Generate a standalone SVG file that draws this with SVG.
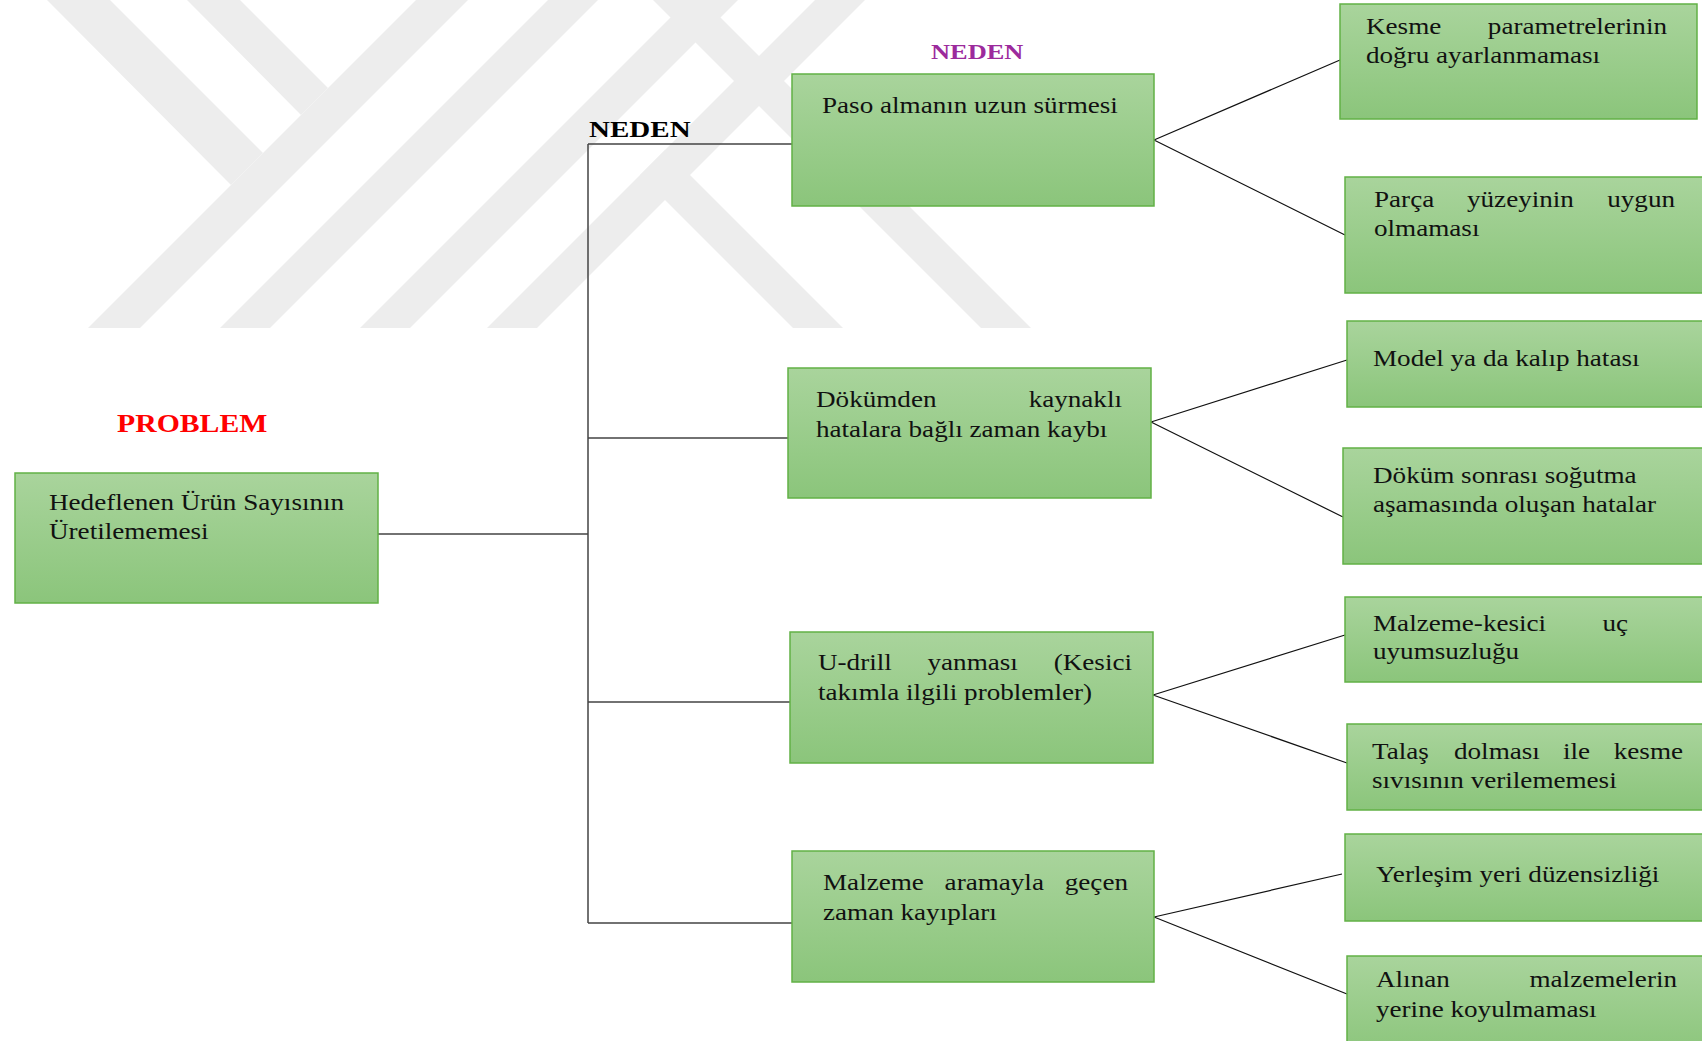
<svg xmlns="http://www.w3.org/2000/svg" width="1702" height="1041" viewBox="0 0 1702 1041">
  <defs>
    <linearGradient id="boxFill" x1="0" y1="0" x2="0" y2="1">
      <stop offset="0" stop-color="#a9d49c"/>
      <stop offset="1" stop-color="#8bc57b"/>
    </linearGradient>
    <style>
      .box { fill: url(#boxFill); stroke: #62b146; stroke-width: 1.5; }
      .t { font-family: "Liberation Serif", "Times New Roman", serif; font-size: 22.6px; fill: #111; }
      .e { text-anchor: end; }
      .title { font-family: "Liberation Serif", "Times New Roman", serif; font-weight: bold; }
      .tree { fill: none; stroke: #444; stroke-width: 1.5; }
      .link { fill: none; stroke: #111; stroke-width: 1.2; }
      .wm { fill: #ededed; }
    </style>
  </defs>

  <rect width="1702" height="1041" fill="#fff"/>

  <!-- background emblem bands -->
  <g id="watermark">
    <polygon class="wm" points="47,0 110,0 263,153 231,185"/>
    <polygon class="wm" points="187,0 240,0 328,88 301,115"/>
    <polygon class="wm" points="416,0 468,0 140,328 88,328"/>
    <polygon class="wm" points="548,0 598,0 270,328 220,328"/>
    <polygon class="wm" points="688,0 738,0 410,328 360,328"/>
    <polygon class="wm" points="815,0 865,0 537,328 487,328"/>
    <polygon class="wm" points="665,150 843,328 793,328 640,175"/>
    <polygon class="wm" points="653,0 703,0 1031,328 981,328"/>
  </g>

  <!-- connectors -->
  <g id="connectors">
    <path class="tree" d="M378,534 H588 M588,144 V923 M588,144 H793 M588,438 H790 M588,702 H792 M588,923 H793"/>
    <path class="link" d="M1154,140 L1340,60 M1154,140 L1345,235"/>
    <path class="link" d="M1151,422 L1347,360 M1151,422 L1343,517"/>
    <path class="link" d="M1153,695 L1345,635 M1153,695 L1347,763"/>
    <path class="link" d="M1154,917 L1342,874 M1154,917 L1347,994"/>
  </g>

  <!-- headings -->
  <g id="headings">
    <text class="title" transform="translate(117,432) scale(1.19,1)" font-size="25" fill="#ff0000">PROBLEM</text>
    <text class="title" transform="translate(589,137) scale(1.21,1)" font-size="24" fill="#000">NEDEN</text>
    <text class="title" transform="translate(931,59) scale(1.2,1)" font-size="22" fill="#9c2a9c">NEDEN</text>
  </g>

  <g id="problem">
    <rect class="box" x="15" y="473" width="363" height="130"/>
    <text class="t" transform="translate(49,510) scale(1.2,1)">Hedeflenen Ürün Sayısının</text>
    <text class="t" transform="translate(49,539) scale(1.2,1)">Üretilememesi</text>
  </g>

  <g id="cause-paso">
    <rect class="box" x="792" y="74" width="362" height="132"/>
    <text class="t" transform="translate(822,113) scale(1.2,1)">Paso almanın uzun sürmesi</text>
  </g>

  <g id="cause-dokum">
    <rect class="box" x="788" y="368" width="363" height="130"/>
    <text class="t" transform="translate(816,407) scale(1.2,1)">Dökümden</text>
    <text class="t e" transform="translate(1122,407) scale(1.2,1)">kaynaklı</text>
    <text class="t" transform="translate(816,437) scale(1.2,1)">hatalara bağlı zaman kaybı</text>
  </g>

  <g id="cause-udrill">
    <rect class="box" x="790" y="632" width="363" height="131"/>
    <text class="t" transform="translate(818,670) scale(1.2,1)">U-drill</text>
    <text class="t" transform="translate(927.5,670) scale(1.2,1)">yanması</text>
    <text class="t e" transform="translate(1132,670) scale(1.2,1)">(Kesici</text>
    <text class="t" transform="translate(818,700) scale(1.2,1)">takımla ilgili problemler)</text>
  </g>

  <g id="cause-malzeme">
    <rect class="box" x="792" y="851" width="362" height="131"/>
    <text class="t" transform="translate(823,890) scale(1.2,1)">Malzeme</text>
    <text class="t" transform="translate(944.6,890) scale(1.2,1)">aramayla</text>
    <text class="t e" transform="translate(1128,890) scale(1.2,1)">geçen</text>
    <text class="t" transform="translate(823,920) scale(1.2,1)">zaman kayıpları</text>
  </g>

  <g id="sub-kesme">
    <rect class="box" x="1340" y="4" width="357" height="115"/>
    <text class="t" transform="translate(1366,34) scale(1.2,1)">Kesme</text>
    <text class="t e" transform="translate(1667,34) scale(1.2,1)">parametrelerinin</text>
    <text class="t" transform="translate(1366,63) scale(1.2,1)">doğru ayarlanmaması</text>
  </g>

  <g id="sub-parca">
    <rect class="box" x="1345" y="177" width="362" height="116"/>
    <text class="t" transform="translate(1374,207) scale(1.2,1)">Parça</text>
    <text class="t" transform="translate(1467,207) scale(1.2,1)">yüzeyinin</text>
    <text class="t e" transform="translate(1675,207) scale(1.2,1)">uygun</text>
    <text class="t" transform="translate(1374,236) scale(1.2,1)">olmaması</text>
  </g>

  <g id="sub-model">
    <rect class="box" x="1347" y="321" width="360" height="86"/>
    <text class="t" transform="translate(1373,366) scale(1.2,1)">Model ya da kalıp hatası</text>
  </g>

  <g id="sub-sogutma">
    <rect class="box" x="1343" y="448" width="364" height="116"/>
    <text class="t" transform="translate(1373,483) scale(1.2,1)">Döküm sonrası soğutma</text>
    <text class="t" transform="translate(1373,512) scale(1.2,1)">aşamasında oluşan hatalar</text>
  </g>

  <g id="sub-uc">
    <rect class="box" x="1345" y="597" width="362" height="85"/>
    <text class="t" transform="translate(1373,631) scale(1.2,1)">Malzeme-kesici</text>
    <text class="t e" transform="translate(1628,631) scale(1.2,1)">uç</text>
    <text class="t" transform="translate(1373,659) scale(1.2,1)">uyumsuzluğu</text>
  </g>

  <g id="sub-talas">
    <rect class="box" x="1347" y="724" width="360" height="86"/>
    <text class="t" transform="translate(1372,759) scale(1.2,1)">Talaş</text>
    <text class="t" transform="translate(1454,759) scale(1.2,1)">dolması</text>
    <text class="t" transform="translate(1563,759) scale(1.2,1)">ile</text>
    <text class="t e" transform="translate(1683,759) scale(1.2,1)">kesme</text>
    <text class="t" transform="translate(1372,788) scale(1.2,1)">sıvısının verilememesi</text>
  </g>

  <g id="sub-yerlesim">
    <rect class="box" x="1345" y="834" width="362" height="87"/>
    <text class="t" transform="translate(1376,882) scale(1.2,1)">Yerleşim yeri düzensizliği</text>
  </g>

  <g id="sub-alinan">
    <rect class="box" x="1347" y="956" width="360" height="100"/>
    <text class="t" transform="translate(1376,987) scale(1.2,1)">Alınan</text>
    <text class="t e" transform="translate(1677,987) scale(1.2,1)">malzemelerin</text>
    <text class="t" transform="translate(1376,1017) scale(1.2,1)">yerine koyulmaması</text>
  </g>
</svg>
